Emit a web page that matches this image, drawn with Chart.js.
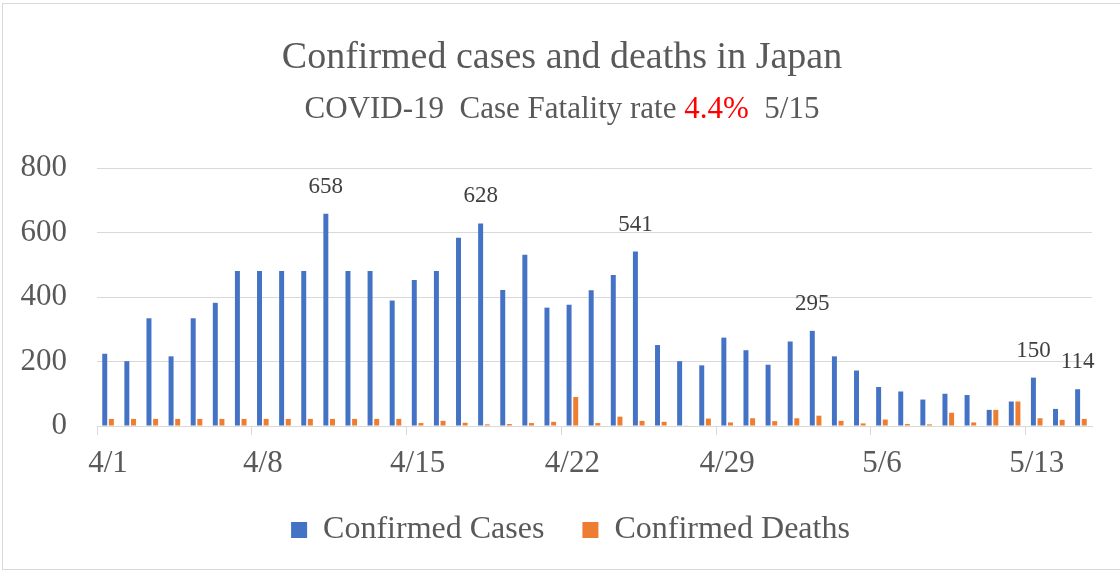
<!DOCTYPE html>
<html>
<head>
<meta charset="utf-8">
<script src="https://cdn.jsdelivr.net/npm/chart.js@4.4.1/dist/chart.umd.min.js"></script>
<style>
  html, body { margin: 0; padding: 0; background: #fff; }
  #wrap { position: relative; width: 1120px; height: 573px; overflow: hidden; background: #fff; }
  #frame { position: absolute; left: 2px; top: 3px; width: 1130px; height: 567px; border: 1px solid #d9d9d9; box-sizing: border-box; }
  canvas { position: absolute; left: 0; top: 0; }
  .ttl { position: absolute; left: 2px; width: 1120px; text-align: center; font-family: 'Liberation Serif', serif; color: #595959; line-height: 1; white-space: pre; }
  #title { top: 36px; font-size: 38px; }
  #subtitle { top: 92px; font-size: 31px; }
  #subtitle .red { color: #ff0000; }
</style>
</head>
<body>
<div id="wrap">
  <div id="frame"></div>
  <canvas id="chart" width="1120" height="573"></canvas>
  <div class="ttl" id="title">Confirmed cases and deaths in Japan</div>
  <div class="ttl" id="subtitle">COVID-19  Case Fatality rate <span class="red">4.4%</span>  5/15</div>
</div>
<script>
// --- datos ---
const dates = ['4/1','4/2','4/3','4/4','4/5','4/6','4/7','4/8','4/9','4/10',
  '4/11','4/12','4/13','4/14','4/15','4/16','4/17','4/18','4/19','4/20',
  '4/21','4/22','4/23','4/24','4/25','4/26','4/27','4/28','4/29','4/30',
  '5/1','5/2','5/3','5/4','5/5','5/6','5/7','5/8','5/9','5/10',
  '5/11','5/12','5/13','5/14','5/15'];

const cases = [224, 201, 334, 216, 334, 382, 481, 481, 481, 481,
  658, 481, 481, 389, 453, 481, 584, 628, 422, 531,
  367, 376, 421, 468, 541, 251, 201, 188, 274, 235,
  190, 262, 295, 216, 172, 121, 107, 82, 100, 96,
  50, 76, 150, 53, 114];

const deaths = [22, 22, 22, 22, 22, 22, 22, 22, 22, 22,
  22, 22, 22, 22, 9, 16, 10, 5, 6, 9,
  13, 90, 9, 29, 16, 13, 2, 23, 11, 24,
  15, 24, 32, 16, 8, 20, 6, 5, 41, 11,
  50, 76, 24, 19, 22];

const yTicks = [0, 200, 400, 600, 800];
// dias con etiqueta de valor
const labeledDays = ['4/11', '4/18', '4/25', '5/3', '5/13', '5/15'];

const FONT = 'Liberation Serif';
const TEXT = '#595959';
const GRID = '#d9d9d9';

// etiquetas encima de algunas barras
const valueLabels = {
  id: 'valueLabels',
  afterDatasetsDraw(chart) {
    const c = chart.ctx;
    const meta = chart.getDatasetMeta(0);
    c.save();
    c.font = '23px "' + FONT + '"';
    c.fillStyle = '#404040';
    c.textAlign = 'center';
    c.textBaseline = 'alphabetic';
    labeledDays.forEach(d => {
      const i = dates.indexOf(d);
      const bar = meta.data[i];
      c.fillText(String(cases[i]), bar.x, bar.y - 21);
    });
    c.restore();
  }
};

// la leyenda del original esta algo desplazada a la derecha
const legendShift = {
  id: 'legendShift',
  afterLayout(chart) {
    chart.legend.left += 14;
    chart.legend.right += 14;
  }
};

const ctx = document.getElementById('chart').getContext('2d');
new Chart(ctx, {
  type: 'bar',
  data: {
    labels: dates,
    datasets: [
      { label: 'Confirmed Cases', data: cases, backgroundColor: '#4472C4',
        categoryPercentage: 0.6, barPercentage: 0.75 },
      { label: 'Confirmed Deaths', data: deaths, backgroundColor: '#ED7D31',
        categoryPercentage: 0.6, barPercentage: 0.75 }
    ]
  },
  options: {
    responsive: false,
    animation: false,
    layout: { padding: { top: 168, left: 21, right: 28, bottom: 17 } },
    scales: {
      x: {
        afterFit: s => { s.height = 50; },
        grid: {
          offset: true,
          drawOnChartArea: false,
          tickLength: 9,
          color: c => (c.index % 7 === 0 ? GRID : 'rgba(0,0,0,0)')
        },
        border: { color: GRID },
        ticks: {
          autoSkip: false, maxRotation: 0, minRotation: 0, padding: 13,
          color: TEXT, font: { family: FONT, size: 31, lineHeight: 1 },
          callback: (v, i) => (i % 7 === 0 ? dates[i] : '')
        }
      },
      y: {
        min: yTicks[0],
        max: yTicks[yTicks.length - 1],
        afterBuildTicks: s => { s.ticks = yTicks.map(v => ({ value: v })); },
        afterFit: s => { s.width = 76; },
        grid: { color: GRID, drawTicks: false },
        border: { display: false },
        ticks: { padding: 30, color: TEXT, font: { family: FONT, size: 31 } }
      }
    },
    plugins: {
      legend: {
        position: 'bottom',
        labels: { boxWidth: 16, boxHeight: 16, padding: 38, color: TEXT,
          font: { family: FONT, size: 32, lineHeight: 1 } }
      },
      tooltip: { enabled: false }
    }
  },
  plugins: [valueLabels, legendShift]
});
</script>
</body>
</html>
